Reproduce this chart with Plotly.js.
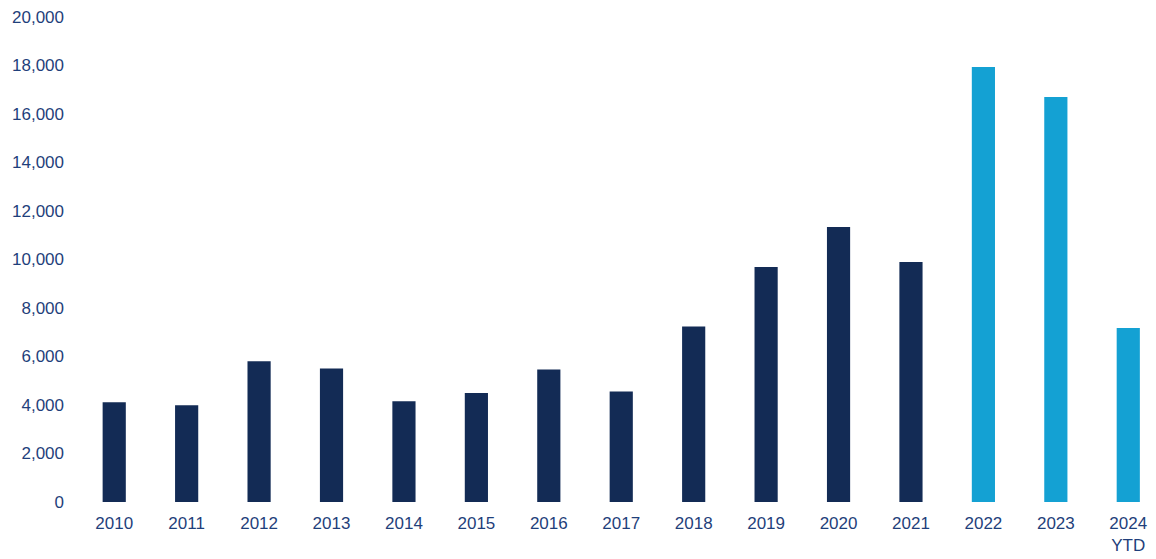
<!DOCTYPE html>
<html>
<head>
<meta charset="utf-8">
<script src="https://cdn.plot.ly/plotly-3.0.1.min.js"></script>
<style>html,body{margin:0;padding:0;background:#fff;}#chart{width:1156px;height:559px;}</style>
</head>
<body>
<div id="chart"></div>
<script>
const categories = ["2010","2011","2012","2013","2014","2015","2016","2017","2018","2019","2020","2021","2022","2023","2024<br>YTD"];
const values = [4110, 3990, 5800, 5510, 4150, 4490, 5460, 4560, 7240, 9690, 11340, 9900, 17940, 16700, 7180];
const barColors = ["#132B55","#132B55","#132B55","#132B55","#132B55","#132B55","#132B55","#132B55","#132B55","#132B55","#132B55","#132B55","#14A1D3","#14A1D3","#14A1D3"];
const yTicks = [0,2000,4000,6000,8000,10000,12000,14000,16000,18000,20000];

const trace = {
  type: "bar",
  x: categories,
  y: values,
  marker: {color: barColors, line: {width: 0}},
  hoverinfo: "x+y"
};
const layout = {
  width: 1156, height: 559,
  margin: {l: 78, r: 6, t: 17, b: 57},
  paper_bgcolor: "#fff", plot_bgcolor: "#fff",
  bargap: 0.68,
  showlegend: false,
  font: {family: "Liberation Sans, Arial, sans-serif", size: 17, color: "#1F3F7B"},
  xaxis: {
    type: "category",
    range: [-0.5, 14.3],
    showgrid: false, showline: false, zeroline: false, ticks: "",
    ticklabelstandoff: 9,
    tickfont: {size: 17, color: "#1F3F7B"}
  },
  yaxis: {
    range: [0, 20000],
    tickvals: yTicks,
    ticktext: yTicks.map(v => v.toLocaleString("en-US")),
    showgrid: false, showline: false, zeroline: false, ticks: "",
    ticklabelstandoff: 13,
    tickfont: {size: 17, color: "#1F3F7B"}
  }
};
Plotly.newPlot("chart", [trace], layout, {displayModeBar: false, staticPlot: true});
</script>
</body>
</html>
